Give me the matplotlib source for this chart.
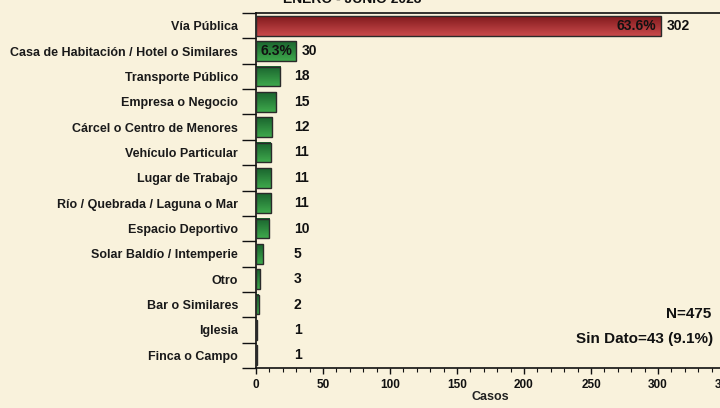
import numpy as np
import matplotlib
matplotlib.use("Agg")
import matplotlib.pyplot as plt
from matplotlib.colors import LinearSegmentedColormap
from matplotlib.ticker import MultipleLocator, FixedLocator

categories = ["Vía Pública", "Casa de Habitación / Hotel o Similares", "Transporte Público",
              "Empresa o Negocio", "Cárcel o Centro de Menores", "Vehículo Particular",
              "Lugar de Trabajo", "Río / Quebrada / Laguna o Mar", "Espacio Deportivo",
              "Solar Baldío / Intemperie", "Otro", "Bar o Similares", "Iglesia", "Finca o Campo"]
values = [302, 30, 18, 15, 12, 11, 11, 11, 10, 5, 3, 2, 1, 1]
pct_labels = ["63.6%", "6.3%"]
title = "ENERO - JUNIO 2023"
xlabel = "Casos"
note_n = "N=475"
note_sd = "Sin Dato=43 (9.1%)"

plt.rcParams['font.family'] = ['Liberation Sans', 'DejaVu Sans']
plt.rcParams['font.weight'] = 'bold'
bg = '#f9f2dc'

fig = plt.figure(figsize=(7.2, 4.08), dpi=100, facecolor=bg)
ax = fig.add_axes([256/720, 40/408, 469/720, 355/408], facecolor=bg)

y = np.arange(len(categories))
bars = ax.barh(y, values, height=0.78, color='none', edgecolor='#2a2a2a', linewidth=1.0, zorder=3)

red_cmap = LinearSegmentedColormap.from_list('r', ['#821a1d', '#c94a4c'])
green_cmap = LinearSegmentedColormap.from_list('g', ['#1a642e', '#3ea84c'])
grad = np.linspace(0, 1, 64).reshape(-1, 1)
for i, b in enumerate(bars):
    x0, y0 = b.get_x(), b.get_y()
    w, h = b.get_width(), b.get_height()
    cm = red_cmap if i == 0 else green_cmap
    ax.imshow(grad, cmap=cm, aspect='auto', extent=[x0, x0 + w, y0 + h, y0],
              origin='upper', zorder=2, interpolation='bilinear')

ax.set_xlim(0, 350)
ax.set_ylim(len(categories) - 0.5, -0.5)

for i, v in enumerate(values):
    ax.annotate(str(v), xy=(max(v, 24), i), xytext=(4, 0), textcoords='offset points',
                va='center', ha='left', fontsize=10, fontweight='bold', color='#111111', zorder=4)
for i, p in enumerate(pct_labels):
    ax.annotate(p, xy=(values[i], i), xytext=(-3, 0), textcoords='offset points',
                va='center', ha='right', fontsize=10, fontweight='bold', color='#111111', zorder=4)

# y axis: labels at centers, ticks at boundaries
ax.yaxis.set_major_locator(FixedLocator(y))
ax.set_yticklabels(categories, fontsize=9, fontweight='bold', color='#1a1a1a')
ax.tick_params(axis='y', which='major', length=0, pad=13)
ax.yaxis.set_minor_locator(FixedLocator(np.arange(-0.5, len(categories), 1.0)))
ax.tick_params(axis='y', which='minor', length=10, width=1.0, color='#111111', direction='out')

ax.xaxis.set_major_locator(MultipleLocator(50))
ax.xaxis.set_minor_locator(MultipleLocator(10))
ax.tick_params(axis='x', which='major', length=4, width=1.0, direction='out', labelsize=8.5, pad=4, colors='#111111')
ax.tick_params(axis='x', which='minor', length=3, width=0.8, direction='out', colors='#111111')
for lab in ax.get_xticklabels():
    lab.set_fontweight('bold')
ax.set_xlabel(xlabel, fontsize=9, fontweight='bold', labelpad=0, color='#222222')

for s in ['left', 'bottom', 'top']:
    ax.spines[s].set_color('#111111')
    ax.spines[s].set_linewidth(1.2)
ax.spines['right'].set_visible(False)

fig.text(352/720, 1 - 3/408, title, ha='center', va='baseline', fontsize=10, fontweight='bold', color='#111111')
fig.text(711/720, 1 - 318/408, note_n, ha='right', va='baseline', fontsize=11, fontweight='bold', color='#111111')
fig.text(713/720, 1 - 343/408, note_sd, ha='right', va='baseline', fontsize=11, fontweight='bold', color='#111111')

fig.savefig('out.png', dpi=100, facecolor=bg)
